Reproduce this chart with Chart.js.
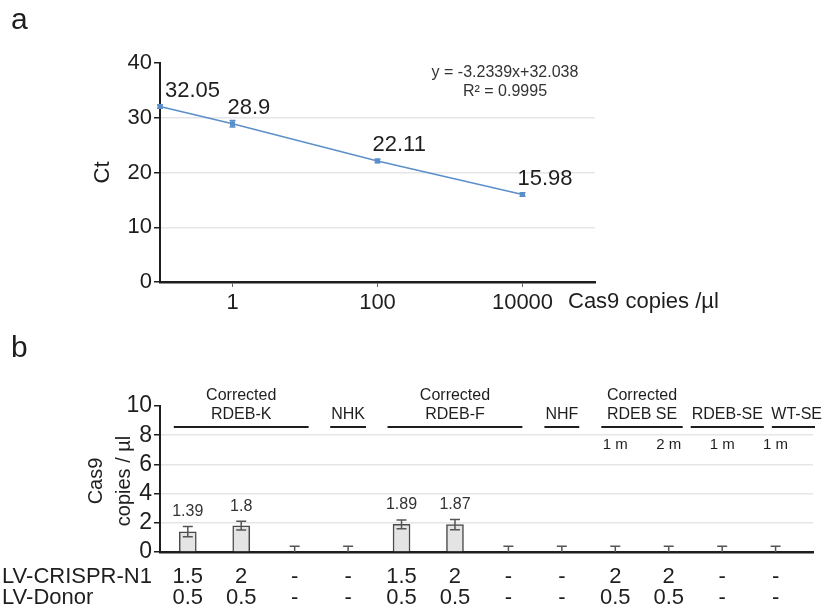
<!DOCTYPE html>
<html>
<head>
<meta charset="utf-8">
<script src="https://cdn.jsdelivr.net/npm/chart.js@4.4.0/dist/chart.umd.min.js"></script>
<style>
  body { margin: 0; background: #fff; }
  #wrap { position: relative; width: 825px; height: 610px; }
  canvas { position: absolute; left: 0; }
  #chartA { top: 0; }
  #chartB { top: 320px; }
</style>
</head>
<body>
<div id="wrap">
  <canvas id="chartA" width="825" height="320"></canvas>
  <canvas id="chartB" width="825" height="290"></canvas>
</div>
<script>
// ── panel a: standard curve ──
const copies = [0.1, 1, 100, 10000];
const ctVals = [32.05, 28.9, 22.11, 15.98];
const ctErr = [0.3, 0.6, 0.3, 0.3];
const ctTicks = [0, 10, 20, 30, 40];
const copyTicks = [1, 100, 10000];
const fitText = ['y = -3.2339x+32.038', 'R² = 0.9995'];

// ── panel b: Cas9 copies per sample ──
const samples = ['RDEB-K 1', 'RDEB-K 2', 'RDEB-K ctrl', 'NHK', 'RDEB-F 1', 'RDEB-F 2', 'RDEB-F ctrl', 'NHF',
                 'RDEB SE 1m', 'RDEB SE 2m', 'RDEB-SE 1m', 'WT-SE 1m'];
const cas9Vals = [1.39, 1.8, 0, 0, 1.89, 1.87, 0, 0, 0, 0, 0, 0];
const cas9Err = [0.35, 0.3, 0.4, 0.4, 0.3, 0.35, 0.4, 0.4, 0.4, 0.4, 0.4, 0.4];
const cas9Ticks = [0, 2, 4, 6, 8, 10];
const groupNames = [['Corrected', 'RDEB-K'], ['NHK'], ['Corrected', 'RDEB-F'], ['NHF'],
                    ['Corrected', 'RDEB SE'], ['RDEB-SE'], ['WT-SE']];
const groupFirst = [0, 3, 4, 7, 8, 10, 11];
const groupLast = [2, 3, 6, 7, 9, 10, 11];
const timepoints = ['', '', '', '', '', '', '', '', '1 m', '2 m', '1 m', '1 m'];
const rowNames = ['LV-CRISPR-N1', 'LV-Donor'];
const crisprDose = ['1.5', '2', '-', '-', '1.5', '2', '-', '-', '2', '2', '-', '-'];
const donorDose = ['0.5', '0.5', '-', '-', '0.5', '0.5', '-', '-', '0.5', '0.5', '-', '-'];

const FONT = '"Liberation Sans", Arial, sans-serif';
const INK = '#1e1e1e';
const GRID = '#e6e6e6';
const BLUE = '#5b8fc9';

function f(size) { return size + 'px ' + FONT; }

function gridFor(keep) {
    return ctx => keep.includes(ctx.tick && ctx.tick.value) ? GRID : 'rgba(0,0,0,0)';
}

// panel a extras: error bars, labels, equation, axis titles
const extrasA = {
    id: 'extrasA',
    afterDatasetsDraw(chart) {
        const ctx = chart.ctx;
        const xs = chart.scales.x, ys = chart.scales.y;
        const area = chart.chartArea;
        ctx.save();
        ctx.strokeStyle = BLUE;
        ctx.lineWidth = 1.5;
        copies.forEach((c, i) => {
            const x = xs.getPixelForValue(c);
            const y1 = ys.getPixelForValue(ctVals[i] - ctErr[i]);
            const y2 = ys.getPixelForValue(ctVals[i] + ctErr[i]);
            ctx.beginPath();
            ctx.moveTo(x, y1); ctx.lineTo(x, y2);
            ctx.moveTo(x - 3, y1); ctx.lineTo(x + 3, y1);
            ctx.moveTo(x - 3, y2); ctx.lineTo(x + 3, y2);
            ctx.stroke();
        });
        // value labels
        ctx.fillStyle = INK;
        ctx.font = f(22);
        ctx.textAlign = 'left';
        ctx.textBaseline = 'middle';
        copies.forEach((c, i) => {
            const x = Math.max(xs.getPixelForValue(c) - 5, area.left + 5);
            const y = ys.getPixelForValue(ctVals[i]) - 16;
            ctx.fillText(String(ctVals[i]), x, y);
        });
        // regression text
        ctx.font = f(16);
        ctx.textAlign = 'center';
        ctx.fillStyle = '#333';
        ctx.fillText(fitText[0], area.right - 90, 73);
        ctx.fillText(fitText[1], area.right - 90, 92);
        // axis titles
        ctx.fillStyle = INK;
        ctx.font = f(22);
        ctx.textAlign = 'left';
        ctx.fillText('Cas9 copies /µl', area.right - 27, 302);
        ctx.save();
        ctx.translate(103, (area.top + area.bottom) / 2);
        ctx.rotate(-Math.PI / 2);
        ctx.textAlign = 'center';
        ctx.fillText('Ct', 0, 0);
        ctx.restore();
        // panel letter
        ctx.font = f(30);
        ctx.textBaseline = 'alphabetic';
        ctx.fillText('a', 11, 29);
        ctx.restore();
    }
};

new Chart(document.getElementById('chartA'), {
    type: 'line',
    data: {
        datasets: [{
            data: copies.map((c, i) => ({ x: c, y: ctVals[i] })),
            borderColor: BLUE,
            backgroundColor: BLUE,
            borderWidth: 1.5,
            pointStyle: 'rect',
            pointRadius: 2.5,
            clip: false
        }]
    },
    options: {
        responsive: false,
        animation: false,
        devicePixelRatio: 1,
        layout: { padding: { left: 0, right: 230, top: 63, bottom: 0 } },
        plugins: { legend: { display: false }, tooltip: { enabled: false } },
        scales: {
            x: {
                type: 'logarithmic',
                min: 0.1,
                max: 100000,
                afterBuildTicks: s => { s.ticks = copyTicks.map(v => ({ value: v })); },
                afterFit: s => { s.height = 38; },
                ticks: { font: { family: FONT, size: 22 }, color: INK, padding: 3, maxRotation: 0,
                         autoSkip: false, callback: v => String(v) },
                grid: { drawOnChartArea: false, tickLength: 5, tickColor: '#666' },
                border: { color: INK, width: 2.5 }
            },
            y: {
                min: 0,
                max: 40,
                afterBuildTicks: s => { s.ticks = ctTicks.map(v => ({ value: v })); },
                afterFit: s => { s.width = 160; },
                ticks: { font: { family: FONT, size: 22 }, color: INK, padding: 2, autoSkip: false },
                grid: { color: gridFor([10, 20, 30]), tickColor: INK, tickLength: 6, lineWidth: 1.5 },
                border: { color: INK, width: 2 }
            }
        }
    },
    plugins: [extrasA]
});

// panel b extras: error bars, headers, dose table
const extrasB = {
    id: 'extrasB',
    afterDatasetsDraw(chart) {
        const ctx = chart.ctx;
        const xs = chart.scales.x, ys = chart.scales.y;
        const area = chart.chartArea;
        const cx = i => xs.getPixelForValue(i);
        ctx.save();
        // error bars
        ctx.strokeStyle = '#555';
        ctx.lineWidth = 1.5;
        cas9Vals.forEach((v, i) => {
            const x = cx(i);
            const y1 = ys.getPixelForValue(Math.max(0, v - cas9Err[i]));
            const y2 = ys.getPixelForValue(v + cas9Err[i]);
            ctx.beginPath();
            ctx.moveTo(x, y1); ctx.lineTo(x, y2);
            ctx.moveTo(x - 5, y2); ctx.lineTo(x + 5, y2);
            if (v - cas9Err[i] > 0) { ctx.moveTo(x - 5, y1); ctx.lineTo(x + 5, y1); }
            ctx.stroke();
        });
        // value labels
        ctx.fillStyle = '#333';
        ctx.font = f(16);
        ctx.textAlign = 'center';
        ctx.textBaseline = 'middle';
        cas9Vals.forEach((v, i) => {
            if (v > 0) ctx.fillText(String(v), cx(i), ys.getPixelForValue(v + cas9Err[i]) - 15);
        });
        // group headers
        ctx.fillStyle = INK;
        ctx.strokeStyle = INK;
        ctx.lineWidth = 2.2;
        ctx.font = f(16);
        let prevEnd = -Infinity;
        groupNames.forEach((lines, g) => {
            const a = cx(groupFirst[g]), b = cx(groupLast[g]);
            const tw = Math.max(...lines.map(t => ctx.measureText(t).width)) + 2;
            const w = Math.max(tw, b - a + 28);
            const left = Math.max((a + b) / 2 - w / 2, prevEnd + 8);
            const right = Math.min(left + w, area.right + 2);
            prevEnd = right;
            const mid = Math.min(left + w / 2, chart.width - 2 - tw / 2);
            const lineY = area.top + 21;
            ctx.beginPath();
            ctx.moveTo(left, lineY); ctx.lineTo(right, lineY);
            ctx.stroke();
            lines.slice().reverse().forEach((t, k) => {
                ctx.fillText(t, mid, area.top + 9 - k * 19);
            });
        });
        ctx.font = f(15);
        timepoints.forEach((t, i) => { if (t) ctx.fillText(t, cx(i), area.top + 39); });
        // dose rows
        ctx.font = f(22);
        const rowY = [area.bottom + 25, area.bottom + 46];
        ctx.textAlign = 'left';
        rowNames.forEach((n, r) => ctx.fillText(n, 2, rowY[r]));
        ctx.textAlign = 'center';
        crisprDose.forEach((d, i) => ctx.fillText(d, cx(i), rowY[0]));
        donorDose.forEach((d, i) => ctx.fillText(d, cx(i), rowY[1]));
        // y title
        ctx.font = f(20);
        ctx.save();
        ctx.translate(96, (area.top + area.bottom) / 2 + 2);
        ctx.rotate(-Math.PI / 2);
        ctx.fillText('Cas9', 0, 0);
        ctx.fillText('copies / µl', 0, 28);
        ctx.restore();
        // panel letter
        ctx.font = f(30);
        ctx.textAlign = 'left';
        ctx.textBaseline = 'alphabetic';
        ctx.fillText('b', 11, 37);
        ctx.restore();
    }
};

new Chart(document.getElementById('chartB'), {
    type: 'bar',
    data: {
        datasets: [{
            label: 'Cas9 copies / µl',
            data: cas9Vals.map((v, i) => ({ x: i, y: v, name: samples[i] })),
            backgroundColor: '#e4e4e4',
            borderColor: '#4a4a4a',
            borderWidth: 1.5,
            barThickness: 17
        }]
    },
    options: {
        responsive: false,
        animation: false,
        devicePixelRatio: 1,
        layout: { padding: { left: 0, right: 12, top: 86, bottom: 0 } },
        plugins: { legend: { display: false }, tooltip: { enabled: false } },
        scales: {
            x: {
                type: 'linear',
                min: -0.52,
                max: 11.7,
                offset: false,
                afterFit: s => { s.height = 58; },
                ticks: { display: false },
                grid: { display: false, offset: false },
                border: { color: INK, width: 2.5 }
            },
            y: {
                min: 0,
                max: 10,
                afterBuildTicks: s => { s.ticks = cas9Ticks.map(v => ({ value: v })); },
                afterFit: s => { s.width = 160; },
                ticks: { font: { family: FONT, size: 23 }, color: INK, padding: 2, autoSkip: false },
                grid: { color: gridFor([2, 4, 6, 8]), tickColor: INK, tickLength: 6, lineWidth: 1.5 },
                border: { color: INK, width: 2 }
            }
        }
    },
    plugins: [extrasB]
});
</script>
</body>
</html>
